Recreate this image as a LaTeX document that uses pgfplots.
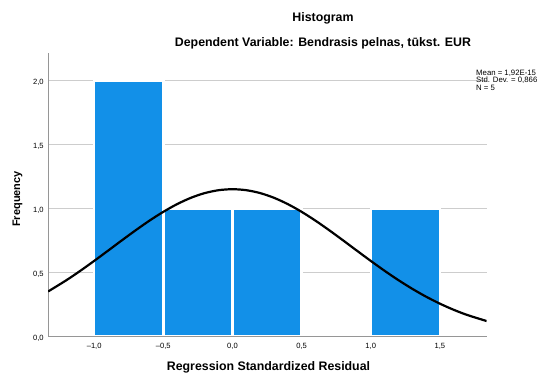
\documentclass[border=0pt]{standalone}
\usepackage{pgfplots}
\pgfplotsset{compat=1.18}
\usepackage{fontspec}
\setmainfont{Liberation Sans}
\definecolor{barblue}{RGB}{18,144,232}
\definecolor{gridgray}{RGB}{205,205,205}
\definecolor{axgray}{RGB}{150,150,150}
\begin{document}
\begin{tikzpicture}[x=1bp,y=1bp]
\useasboundingbox (0,0) rectangle (555,373);
\begin{axis}[
  at={(34.8,28.5)}, anchor=south west,
  width=438.5bp, height=284bp, scale only axis,
  xmin=-1.333, xmax=1.838, ymin=0, ymax=2.22,
  axis lines*=left,
  axis line style={draw=axgray, line width=0.8bp},
  xtick={-1,-0.5,0,0.5,1,1.5},
  xticklabels={{–1,0},{–0,5},{0,0},{0,5},{1,0},{1,5}},
  ytick={0,0.5,1,1.5,2},
  yticklabels={{0,0},{0,5},{1,0},{1,5},{2,0}},
  major tick length=0pt,
  ymajorgrids, grid style={draw=gridgray, line width=0.8bp},
  x tick label style={font=\fontsize{7.6}{8}\selectfont, yshift=-3bp},
  y tick label style={font=\fontsize{7.6}{8}\selectfont, xshift=-1bp, yshift=-1.5bp},
  clip=true,
]
\addplot[ybar interval, fill=barblue, draw=white, line width=2.4bp]
  coordinates {(-1,2) (-0.5,1) (0,1) (0.5,0)};
\addplot[ybar interval, fill=barblue, draw=white, line width=2.4bp]
  coordinates {(1,1) (1.5,0)};
\addplot[black, line width=2.2bp, smooth]
  coordinates {
  (-1.333,0.3523) (-1.2,0.4410) (-1.1,0.5140) (-1.0,0.5913) (-0.9,0.6711)
  (-0.8,0.7517) (-0.7,0.8307) (-0.6,0.9060) (-0.5,0.9749) (-0.4,1.0352)
  (-0.3,1.0847) (-0.2,1.1214) (-0.1,1.1440) (0,1.1517) (0.1,1.1440)
  (0.2,1.1214) (0.3,1.0847) (0.4,1.0352) (0.5,0.9749) (0.6,0.9060)
  (0.7,0.8307) (0.8,0.7517) (0.9,0.6711) (1.0,0.5913) (1.1,0.5140)
  (1.2,0.4410) (1.3,0.3733) (1.4,0.3118) (1.5,0.2570) (1.6,0.2090)
  (1.7,0.1677) (1.838,0.1212)};
\draw[axgray, line width=0.8bp] (rel axis cs:0,0) -- (rel axis cs:1,0);
\end{axis}
\node[anchor=base, font=\bfseries\fontsize{12.4}{14}\selectfont] at (323,352) {Histogram};
\node[anchor=base, font=\bfseries\fontsize{12.4}{14}\selectfont] at (323,327) {Dependent Variable: Bendrasis pelnas, tūkst. EUR};
\node[anchor=base, font=\bfseries\fontsize{12.4}{14}\selectfont] at (268.5,2.5) {Regression Standardized Residual};
\node[rotate=90, anchor=base, font=\bfseries\fontsize{11}{12}\selectfont] at (20,174) {Frequency};
\node[anchor=north west, align=left, inner sep=0pt, font=\fontsize{7.8}{7.6}\selectfont] at (476,303.5) {Mean = 1,92E-15\\Std. Dev. = 0,866\\N = 5};
\end{tikzpicture}
\end{document}
